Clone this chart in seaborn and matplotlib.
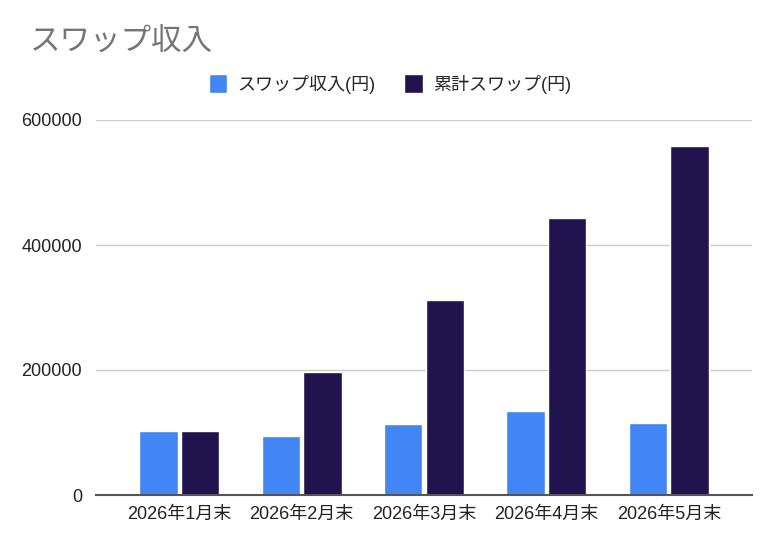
import matplotlib
matplotlib.use("Agg")
import matplotlib.pyplot as plt
import seaborn as sns
import pandas as pd
from matplotlib.patches import Patch

categories = ["2026年1月末", "2026年2月末", "2026年3月末", "2026年4月末", "2026年5月末"]
swap_income = [103000, 94000, 113000, 134000, 115000]
cumulative_swap = [103000, 197000, 312000, 444000, 559000]
series_names = ["スワップ収入(円)", "累計スワップ(円)"]
yticks = [0, 200000, 400000, 600000]

sns.set_theme(style="white")
plt.rcParams["font.family"] = ["Liberation Sans", "Noto Sans CJK JP", "DejaVu Sans"]

df = pd.DataFrame({
    "month": categories * 2,
    "value": swap_income + cumulative_swap,
    "series": [series_names[0]] * len(categories) + [series_names[1]] * len(categories),
})

fig = plt.figure(figsize=(7.8, 5.49), dpi=100)
ax = fig.add_axes([96 / 780, 1 - 495 / 549, (752 - 96) / 780, (495 - 120) / 549])

sns.barplot(data=df, x="month", y="value", hue="series", ax=ax,
            palette=["#4285F4", "#21134D"], width=0.68, gap=0.08,
            saturation=1, legend=False)

ax.set_ylim(0, 600000)
ax.set_xlim(-0.68, 4.68)
ax.set_yticks(yticks)
ax.set_yticklabels([str(v) for v in yticks])
ax.yaxis.grid(True, color="#cccccc", linewidth=1)
ax.set_axisbelow(True)
for s in ["left", "right", "top"]:
    ax.spines[s].set_visible(False)
ax.spines["bottom"].set_color("#555555")
ax.spines["bottom"].set_linewidth(1.5)
ax.spines["bottom"].set_zorder(5)
ax.tick_params(axis="both", length=0, labelsize=13, colors="#222222")
ax.tick_params(axis="y", pad=10)
ax.tick_params(axis="x", pad=8)
ax.set_xlabel("")
ax.set_ylabel("")

fig.text(30 / 780, 1 - 42 / 549, "スワップ収入", fontsize=22, color="#757575",
         va="center", ha="left", family=["Noto Sans CJK JP", "DejaVu Sans"])

handles = [Patch(facecolor="#4285F4"), Patch(facecolor="#21134D")]
fig.legend(handles, series_names, loc="center", bbox_to_anchor=(390 / 780, 1 - 84 / 549),
           ncol=2, frameon=False, fontsize=13, handlelength=1.0, handleheight=1.2,
           handletextpad=0.6, columnspacing=1.6)

fig.savefig("out.png", dpi=100)
